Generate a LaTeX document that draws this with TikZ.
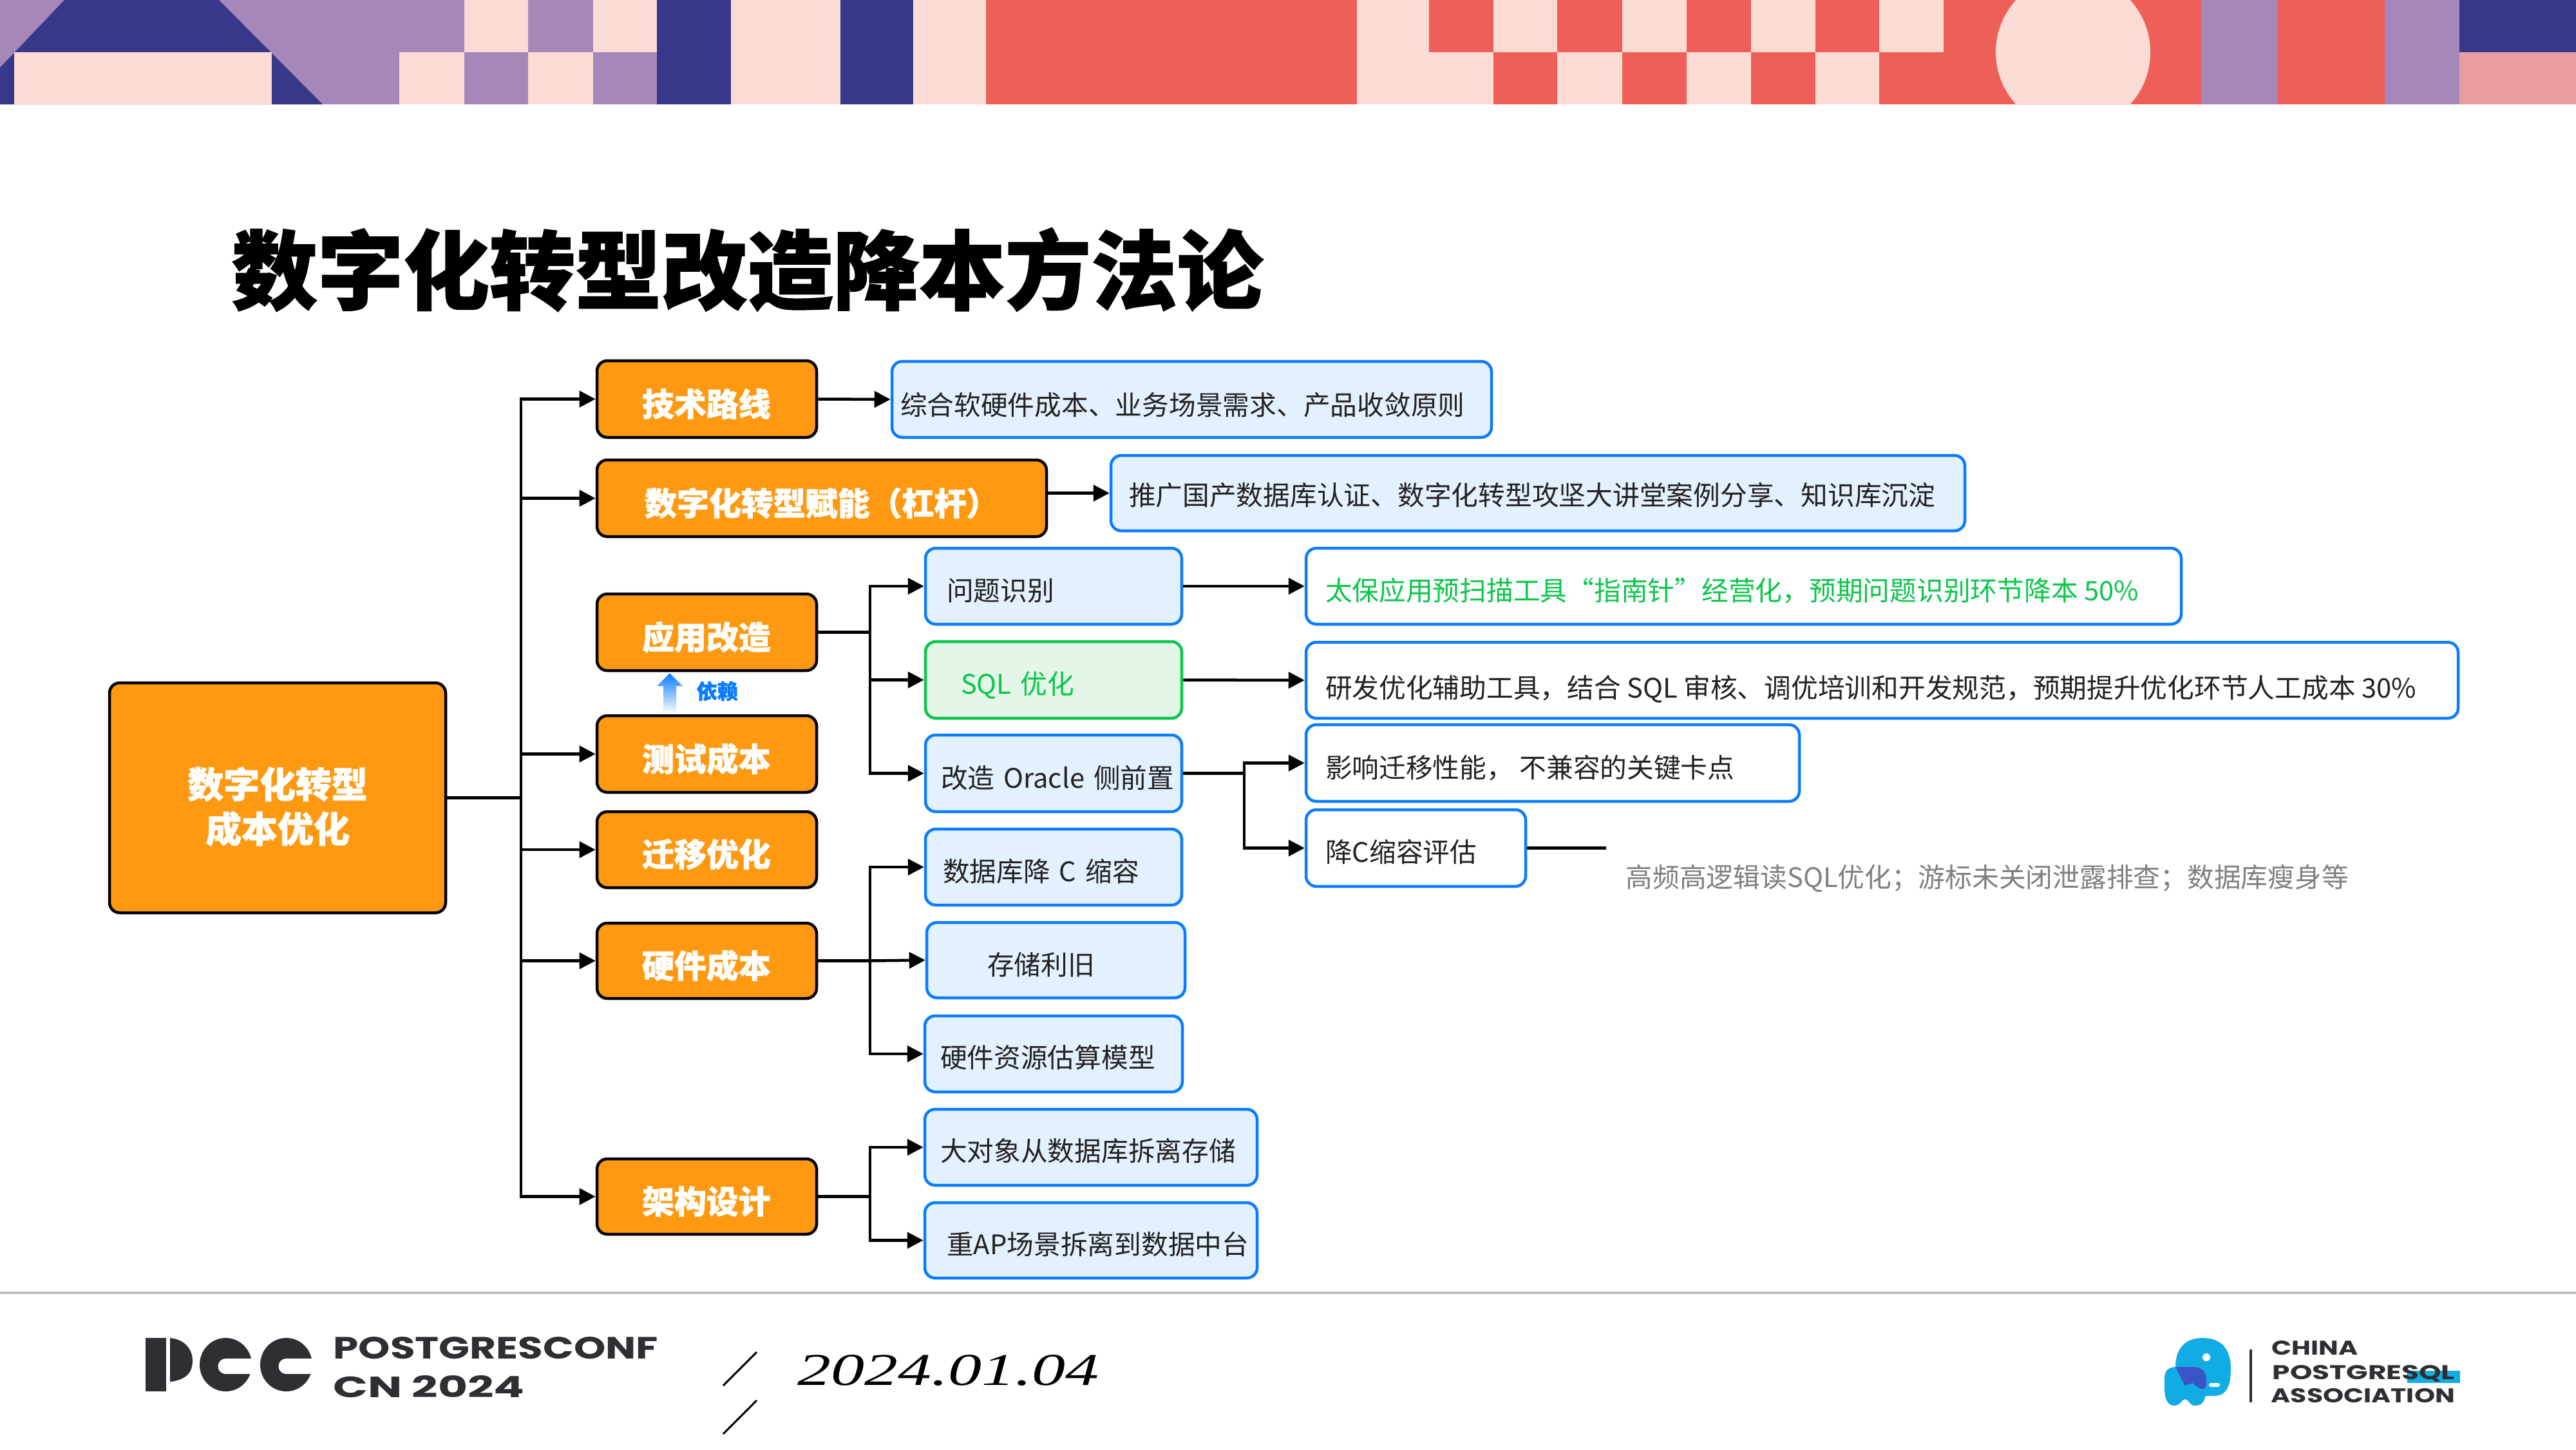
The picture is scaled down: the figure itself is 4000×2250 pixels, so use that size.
\documentclass[tikz,border=0pt]{standalone}
\usepackage{fontspec}
\usetikzlibrary{arrows.meta,calc}
\setmainfont{Noto Sans CJK SC}[BoldFeatures={FakeBold=1.2}]
\newfontfamily\logof{Poppins}
\newfontfamily\datef{Liberation Serif}
\definecolor{bandred}{HTML}{EE5F58}
\definecolor{bandpink}{HTML}{FADCD5}
\definecolor{bandnavy}{HTML}{38388B}
\definecolor{bandpurple}{HTML}{A587B9}
\definecolor{bandrose}{HTML}{E99C9F}
\definecolor{orangefill}{HTML}{FF9912}
\definecolor{blueline}{HTML}{0A7CFF}
\definecolor{bluefill}{HTML}{E3F0FD}
\definecolor{greenline}{HTML}{0BC64A}
\definecolor{greenfill}{HTML}{E3F6E8}
\definecolor{ink}{HTML}{222222}
\definecolor{graytxt}{HTML}{808080}
\definecolor{logoink}{HTML}{2E2E33}
\definecolor{elephant}{HTML}{12ACE4}
\definecolor{elephantdark}{HTML}{3B55C9}
\newcommand\fbody{\fontsize{11.87pt}{14pt}\selectfont}
\newcommand\flabel{\fontsize{14.2pt}{17pt}\selectfont\bfseries}
\newcommand\froot{\fontsize{15.9pt}{19.35pt}\selectfont\bfseries}
\newcommand\ftitle{\fontsize{37.95pt}{44pt}\selectfont\bfseries}
\newcommand\fdep{\fontsize{9.1pt}{11pt}\selectfont\bfseries}
\newcommand\wsp{\hspace{1.3pt}}
% style, name, x0,y0,x1,y1, text left, text baseline, text
\newcommand\bx[9]{%
  \pgfmathsetlengthmacro\bxw{(#5-#3)*0.01cm}%
  \pgfmathsetlengthmacro\bxh{(#6-#4)*0.01cm}%
  \pgfmathsetlengthmacro\bxin{(#5-#3-4.5)*0.01cm}%
  \pgfmathsetlengthmacro\bxdx{(#7-#3-2.25)*0.01cm}%
  \pgfmathsetlengthmacro\bxdy{-(#8-(#4+#6)/2)*0.01cm}%
  \node[#1,minimum width=\bxw,minimum height=\bxh] (#2) at ({(#3+#5)/2},{(#4+#6)/2})
    {\makebox[\bxin][l]{\hspace*{\bxdx}\raisebox{\bxdy}[0pt][0pt]{#9}}};%
}
\tikzset{
  allbox/.style={rectangle,rounded corners=0.16cm,inner sep=0pt,outer sep=0.0225cm,line width=0.045cm},
  mainbox/.style={allbox,draw=black,fill=orangefill,text=white,font=\flabel},
  infobox/.style={allbox,draw=blueline,fill=bluefill,text=ink,font=\fbody},
  plainbox/.style={allbox,draw=blueline,fill=white,text=ink,font=\fbody},
  greenbox/.style={allbox,draw=greenline,fill=greenfill,text=greenline,font=\fbody},
  wire/.style={draw=black,line width=0.045cm},
  arrowwire/.style={wire,-{Triangle[length=0.25cm,width=0.25cm]}},
}
\begin{document}
\begin{tikzpicture}[x=0.01cm,y=-0.01cm]
\useasboundingbox (0,0) rectangle (4000,2250);
\fill[white] (0,0) rectangle (4000,2250);
% ---- top band ----
\fill[bandpurple] (0,0) rectangle (620,162);
\fill[bandnavy] (100,0) -- (340,0) -- (501,162) -- (0,162) -- (0,105) -- cycle;
\fill[bandpink] (22,81) rectangle (422,162);
\foreach \a/\b/\ca/\cb in {620/721/bandpurple/bandpink,721/820/bandpink/bandpurple,820/921/bandpurple/bandpink,921/1020/bandpink/bandpurple,
  2219/2319/bandred/bandpink,2319/2418/bandpink/bandred,2418/2519/bandred/bandpink,2519/2619/bandpink/bandred,
  2619/2719/bandred/bandpink,2719/2819/bandpink/bandred,2819/2918/bandred/bandpink,2918/3018/bandpink/bandred}{
  \fill[\ca] (\a,0) rectangle (\b,81);
  \fill[\cb] (\a,81) rectangle (\b,162);
}
\fill[bandnavy] (1020,0) rectangle (1135,162);
\fill[bandpink] (1135,0) rectangle (1305,162);
\fill[bandnavy] (1305,0) rectangle (1418,162);
\fill[bandpink] (1418,0) rectangle (1531,162);
\fill[bandred] (1531,0) rectangle (2107,162);
\fill[bandpink] (2107,0) rectangle (2219,162);
\fill[bandred] (3018,0) rectangle (3418,162);
\begin{scope}
  \clip (3018,0) rectangle (3418,162);
  \fill[bandpink] (3219,81) circle [radius=120];
\end{scope}
\fill[bandpurple] (3418,0) rectangle (3536,162);
\fill[bandred] (3536,0) rectangle (3703,162);
\fill[bandpurple] (3703,0) rectangle (3819,162);
\fill[bandnavy] (3819,0) rectangle (4000,81);
\fill[bandrose] (3819,81) rectangle (4000,162);
% ---- title ----
\node[anchor=base west,inner sep=0pt,font=\ftitle,text=black] (title) at (359,470) {数字化转型改造降本方法论};
% ---- boxes ----
\pgfmathsetlengthmacro\rw{(692-170)*0.01cm}
\pgfmathsetlengthmacro\rh{(1417-1060)*0.01cm}
\node[mainbox,font=\froot,align=center,minimum width=\rw,minimum height=\rh] (root) at (431,1238.5)
  {\raisebox{-0.36cm}[0pt][0pt]{\begin{tabular}{@{}c@{}}数字化转型\\成本优化\end{tabular}}};
\bx{mainbox}{tech}{927}{560}{1268}{679}{997}{646}{技术路线}
\bx{mainbox}{digital}{927}{714}{1625}{833}{1001}{800}{数字化转型赋能（杠杆）}
\bx{mainbox}{app}{927}{922}{1268}{1041}{997}{1008}{应用改造}
\bx{mainbox}{test}{927}{1111}{1268}{1230}{997}{1197}{测试成本}
\bx{mainbox}{migr}{927}{1260}{1268}{1378}{997}{1345}{迁移优化}
\bx{mainbox}{hard}{927}{1433}{1268}{1550}{997}{1518}{硬件成本}
\bx{mainbox}{arch}{927}{1799}{1268}{1916}{997}{1884}{架构设计}
\bx{infobox}{rtech}{1385}{561}{2316}{679}{1398}{644}{综合软硬件成本、业务场景需求、产品收敛原则}
\bx{infobox}{rdigital}{1725}{707}{3051}{824}{1753}{784}{推广国产数据库认证、数字化转型攻坚大讲堂案例分享、知识库沉淀}
\bx{infobox}{issue}{1437}{851}{1835}{969}{1470}{932}{问题识别}
\bx{greenbox}{sql}{1437}{996}{1835}{1115}{1492}{1077}{SQL\wsp{} 优化}
\bx{infobox}{oracle}{1437}{1141}{1835}{1260}{1461}{1223}{改造\wsp{} Oracle\wsp{} 侧前置}
\bx{infobox}{dbc}{1437}{1287}{1835}{1405}{1464}{1368}{数据库降\wsp{} C\wsp{} 缩容}
\bx{infobox}{store}{1439}{1432}{1840}{1549}{1533}{1513}{存储利旧}
\bx{infobox}{hwmodel}{1436}{1577}{1836}{1695}{1460}{1657}{硬件资源估算模型}
\bx{infobox}{blob}{1436}{1722}{1952}{1840}{1460}{1802}{大对象从数据库拆离存储}
\bx{infobox}{apscene}{1436}{1867}{1952}{1984}{1470}{1947}{重AP场景拆离到数据中台}
\bx{plainbox,text=greenline}{rissue}{2028}{851}{3387}{969}{2058}{932}{太保应用预扫描工具“指南针”经营化，预期问题识别环节降本 50\%}
\bx{plainbox}{rsql}{2028}{997}{3817}{1115}{2058}{1083}{研发优化辅助工具，结合 SQL 审核、调优培训和开发规范，预期提升优化环节人工成本 30\%}
\bx{plainbox}{rkey}{2028}{1125}{2794}{1244}{2058}{1207}{影响迁移性能， 不兼容的关键卡点}
\bx{plainbox}{rshrink}{2028}{1257}{2369}{1376}{2058}{1338}{降C缩容评估}
\node[anchor=base west,inner sep=0pt,font=\fbody,text=graytxt] (note) at (2524,1377) {高频高逻辑读SQL优化；游标未关闭泄露排查；数据库瘦身等};
% ---- junction coordinates ----
\coordinate (busroot) at (809,1238.5);
\coordinate (busapp) at (1351,981.5);
\coordinate (bushard) at (1351,1491.5);
\coordinate (busarch) at (1351,1857.5);
\coordinate (busoracle) at (1932,1200.5);
\coordinate (noteend) at (2494,1316.5);
% ---- connectors ----
\draw[wire] (root.east) -- (busroot);
\foreach \t in {tech,digital,test,migr,hard,arch}{
  \draw[arrowwire] (busroot) |- (\t.west);
}
\draw[arrowwire] (tech.east) -- (rtech.west);
\draw[arrowwire] (digital.east |- rdigital.west) -- (rdigital.west);
\draw[wire] (app.east) -- (busapp);
\foreach \t in {issue,sql,oracle}{
  \draw[arrowwire] (busapp) |- (\t.west);
}
\draw[wire] (hard.east) -- (bushard);
\draw[arrowwire] (bushard) |- (dbc.west);
\draw[arrowwire] (bushard) -- (store.west);
\draw[arrowwire] (bushard) |- (hwmodel.west);
\draw[wire] (arch.east) -- (busarch);
\draw[arrowwire] (busarch) |- (blob.west);
\draw[arrowwire] (busarch) |- (apscene.west);
\draw[arrowwire] (issue.east) -- (rissue.west);
\draw[arrowwire] (sql.east) -- (rsql.west);
\draw[wire] (oracle.east) -- (busoracle);
\draw[arrowwire] (busoracle) |- (rkey.west);
\draw[arrowwire] (busoracle) |- (rshrink.west);
\draw[wire] (rshrink.east) -- (noteend);
% ---- dependency arrow ----
\shade[top color=blueline,bottom color=white] (1040,1045) -- (1060,1065) -- (1050,1065) -- (1050,1108) -- (1030,1108) -- (1030,1065) -- (1020,1065) -- cycle;
\node[anchor=base west,inner sep=0pt,font=\fdep,text=blueline] (dep) at (1081,1085) {依赖};
% ---- footer ----
\draw[line width=0.035cm,draw=black!25] (0,2007) -- (4000,2007);
% PCC mark
\fill[logoink] (226,2077) rectangle (258,2160);
\fill[logoink] (264,2077) .. controls (292,2080) and (299,2100) .. (299,2112) .. controls (299,2130) and (290,2142) .. (264,2145) -- cycle;
\foreach \cx in {350.5,444.5}{
  \fill[logoink] (\cx,2118.5) ellipse [x radius=40.5,y radius=41.5];
  \fill[white] (\cx,2121) ellipse [x radius=12,y radius=12];
  \fill[white] (\cx,2109) rectangle (\cx+41,2133);
}
\node[anchor=base west,inner sep=0pt,text=logoink] (pg) at (517,2109) {\resizebox{5.04cm}{0.34cm}{\logof\bfseries POSTGRESCONF}};
\node[anchor=base west,inner sep=0pt,text=logoink] (cn) at (517,2169) {\resizebox{2.97cm}{0.34cm}{\logof\bfseries CN 2024}};
\draw[line width=0.03cm] (1175,2099) -- (1123,2151);
\draw[line width=0.03cm] (1175,2174) -- (1123,2226);
\node[anchor=base west,inner sep=0pt] (date) at (1238,2150) {\resizebox{4.68cm}{0.47cm}{\datef\itshape 2024.01.04}};
% right logo
\fill[elephant] (3378,2122) .. controls (3378,2095) and (3392,2077) .. (3420,2077) .. controls (3450,2077) and (3464,2095) .. (3464,2125) .. controls (3464,2150) and (3458,2167) .. (3438,2167) -- (3400,2167) -- cycle;
\fill[elephant] (3361,2140) .. controls (3361,2125) and (3370,2122) .. (3380,2122) -- (3405,2122) .. controls (3420,2122) and (3426,2130) .. (3426,2145) -- (3426,2160) .. controls (3424,2175) and (3420,2182) .. (3408,2182) .. controls (3400,2182) and (3398,2172) .. (3393,2172) .. controls (3388,2172) and (3386,2182) .. (3376,2182) .. controls (3365,2182) and (3361,2170) .. (3361,2155) -- cycle;
\begin{scope}
  \clip (3378,2122) .. controls (3378,2095) and (3392,2077) .. (3420,2077) .. controls (3450,2077) and (3464,2095) .. (3464,2125) .. controls (3464,2150) and (3458,2167) .. (3438,2167) -- (3400,2167) -- cycle;
  \fill[elephantdark] (3361,2140) .. controls (3361,2125) and (3370,2122) .. (3380,2122) -- (3405,2122) .. controls (3420,2122) and (3426,2130) .. (3426,2145) .. controls (3426,2150) and (3426,2167) .. (3405,2147) -- (3361,2160) -- cycle;
\end{scope}
\fill[white] (3426,2107) circle [radius=6];
\fill[white,rounded corners=0.03cm] (3430,2147) rectangle (3447,2153);
\fill[elephant] (3738,2128) rectangle (3820,2147);
\draw[line width=0.04cm,draw=logoink] (3495,2095) -- (3495,2177);
\node[anchor=base west,inner sep=0pt,text=logoink] (lchina) at (3527,2103) {\resizebox{1.34cm}{0.22cm}{\logof\bfseries CHINA}};
\node[anchor=base west,inner sep=0pt,text=logoink] (lpg) at (3528,2141) {\resizebox{2.83cm}{0.22cm}{\logof\bfseries POSTGRESQL}};
\node[anchor=base west,inner sep=0pt,text=logoink] (lassoc) at (3526,2177) {\resizebox{2.85cm}{0.22cm}{\logof\bfseries ASSOCIATION}};
\end{tikzpicture}
\end{document}
